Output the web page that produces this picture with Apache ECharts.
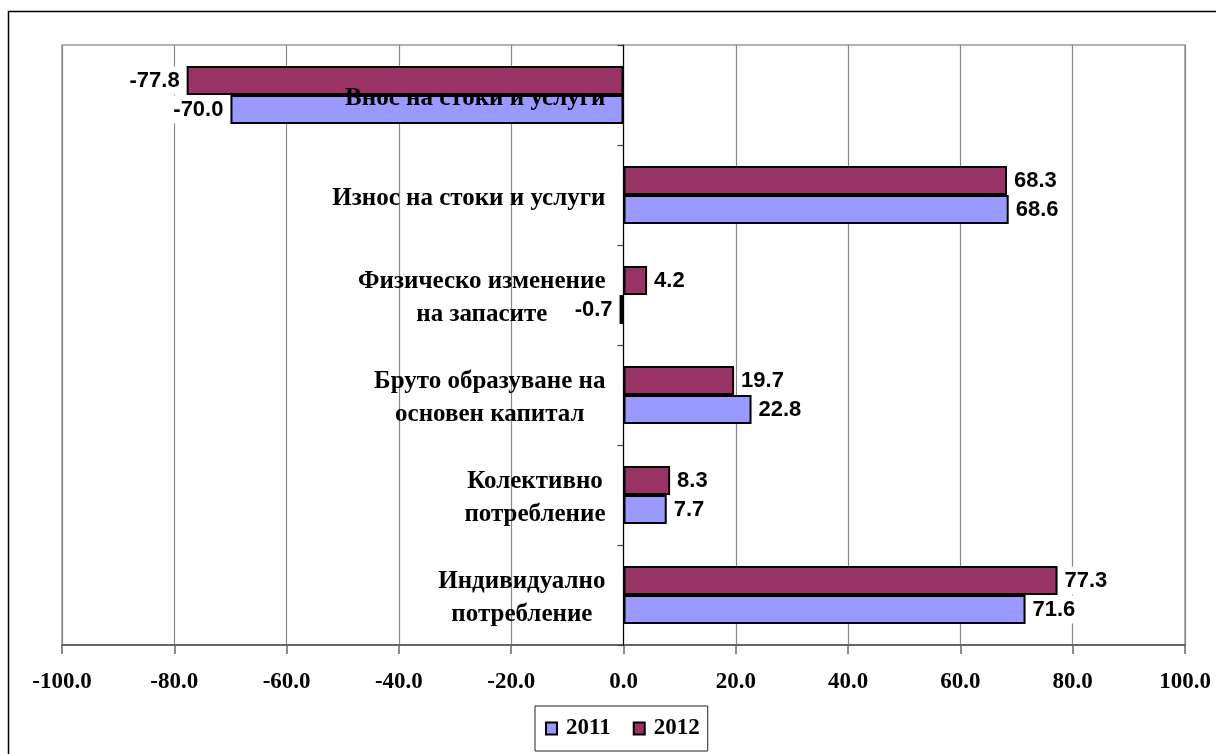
<!DOCTYPE html>
<html>
<head>
<meta charset="utf-8">
<script src="https://cdn.jsdelivr.net/npm/echarts@6/dist/echarts.min.js"></script>
<style>
html,body{margin:0;padding:0;background:#fff;}
#c{width:1216px;height:754px;}
</style>
</head>
<body>
<div id="c"></div>
<script>
const categories = [
  'Внос на стоки и услуги',
  'Износ на стоки и услуги',
  'Физическо изменение\nна запасите',
  'Бруто образуване на\nосновен капитал',
  'Колективно\nпотребление',
  'Индивидуално\nпотребление'
];
const values2011 = [-70.0, 68.6, -0.7, 22.8, 7.7, 71.6];
const values2012 = [-77.8, 68.3, 4.2, 19.7, 8.3, 77.3];
const xTicks = { min: -100, max: 100, interval: 20 };
const seriesNames = ['2011', '2012'];

const SERIF = '"Liberation Serif", "Times New Roman", serif';
const SANS = '"Liberation Sans", Arial, sans-serif';

const W = 1216;
const GRID = { left: 62, right: 31, top: 45, bottom: 109 };
const gridWidth = W - GRID.left - GRID.right;
// put the category axis (line, ticks and labels) at value 0
const zeroOffset = -gridWidth * (0 - xTicks.min) / (xTicks.max - xTicks.min);

function items(vals) {
  return vals.map(v => ({
    value: v,
    label: { position: v < 0 ? 'left' : 'right' }
  }));
}

const labelStyle = {
  show: true,
  formatter: p => p.value.toFixed(1),
  fontFamily: SANS,
  fontWeight: 'bold',
  fontSize: 22,
  color: '#000',
  backgroundColor: '#fff',
  padding: [3, 4, 3, 4],
  distance: 3
};

const chart = echarts.init(document.getElementById('c'), null, { renderer: 'canvas' });
chart.setOption({
  animation: false,
  backgroundColor: '#fff',
  graphic: [{
    type: 'rect',
    z: -10,
    silent: true,
    shape: { x: 8.5, y: 11.5, width: 1300, height: 800 },
    style: { fill: 'none', stroke: '#000', lineWidth: 1.5 }
  }],
  grid: {
    left: GRID.left, right: GRID.right, top: GRID.top, bottom: GRID.bottom,
    outerBoundsMode: 'none',
    containLabel: false,
    show: true, borderColor: '#999', borderWidth: 1.5, backgroundColor: 'transparent'
  },
  legend: {
    data: seriesNames,
    left: 535, top: 706,
    orient: 'horizontal',
    padding: [11, 8, 11, 10],
    itemWidth: 11, itemHeight: 12, itemGap: 22,
    borderColor: '#222', borderWidth: 1,
    icon: 'rect',
    textStyle: { fontFamily: SERIF, fontWeight: 'bold', fontSize: 23, color: '#000', padding: [0, 0, 0, 4] }
  },
  xAxis: {
    type: 'value',
    min: xTicks.min, max: xTicks.max, interval: xTicks.interval,
    axisLine: { show: true, onZero: false, lineStyle: { color: '#666', width: 2 } },
    axisTick: { show: true, length: 9, lineStyle: { color: '#666', width: 1.5 } },
    splitLine: { show: true, lineStyle: { color: '#888', width: 1.2 } },
    axisLabel: {
      formatter: v => v.toFixed(1),
      fontFamily: SERIF, fontWeight: 'bold', fontSize: 23, color: '#000',
      margin: 26
    }
  },
  yAxis: {
    type: 'category',
    data: categories,
    inverse: true,
    z: 5,
    offset: zeroOffset,
    axisLine: { show: true, onZero: false, lineStyle: { color: '#000', width: 1.2 } },
    axisTick: { show: true, length: 6, lineStyle: { color: '#444', width: 1.2 } },
    axisLabel: {
      margin: 18,
      align: 'right',
      hideOverlap: false,
      padding: [7, 0, 0, 0],
      formatter: v => v.split('\n').map(s => '{a|' + s + '}').join('\n'),
      rich: {
        a: { fontFamily: SERIF, fontWeight: 'bold', fontSize: 25, lineHeight: 33, color: '#000', align: 'center' }
      }
    }
  },
  series: [
    {
      name: '2012', type: 'bar', data: items(values2012),
      barGap: '0%', barCategoryGap: '42%',
      itemStyle: { color: '#993366', borderColor: '#000', borderWidth: 2 },
      label: labelStyle
    },
    {
      name: '2011', type: 'bar', data: items(values2011),
      barGap: '0%', barCategoryGap: '42%',
      itemStyle: { color: '#9999FF', borderColor: '#000', borderWidth: 2 },
      label: labelStyle
    }
  ]
});
</script>
</body>
</html>
